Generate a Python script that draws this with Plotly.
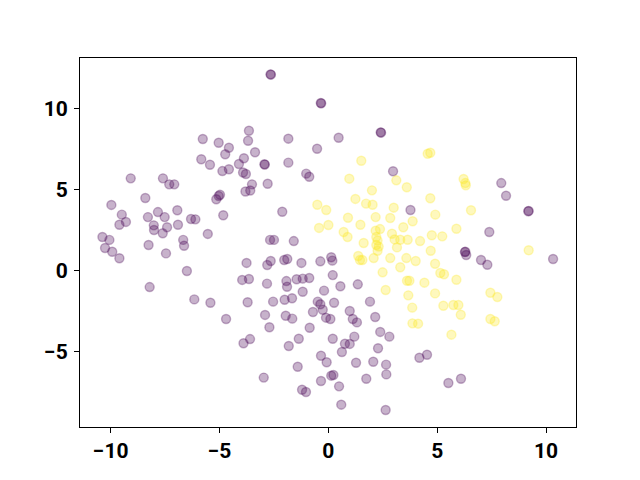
import plotly.graph_objects as go

# Class 0 (purple) points
x0 = [-5.77, -5.04, -4.57, -4.74, -3.65, -3.69, -5.84, -5.44, -3.88, -4.11,
      -4.87, -4.57, -3.92, -3.79, -9.08, -7.60, -7.31, -7.08, -3.51, -4.98,
      -5.04, -5.15, -3.81, -3.59, -8.41, -9.97, -9.49, -7.83, -7.52, -8.29,
      -6.94, -6.31, -6.11, -4.83, -9.30, -9.60, -8.02, -8.01, -7.41, -6.91,
      -7.61, -5.54, -6.67, -10.38, -10.06, -8.26, -10.26, -9.93, -9.60, -7.46,
      -6.63, -6.50, -8.21, -6.16, -5.42, -4.70, -3.76, -3.96, -3.65, -3.71,
      -3.90, -3.60, -2.66, -2.64, -0.35, -0.33, 2.40, 2.42, -1.84, 0.47,
      -0.52, -3.37, -2.94, -2.92, -1.84, -1.02, -0.88, -2.79, 2.97, -2.12,
      3.77, -2.68, -2.50, -1.59, -2.81, -2.65, -2.03, -1.89, -1.24, -0.37,
      0.13, 0.18, -2.82, -1.93, -1.90, -1.46, -1.18, -0.88, 0.20, 0.55,
      1.35, -1.18, -0.20, -2.54, -2.01, -1.67, -0.49, -0.37, 0.26, 1.91,
      -2.91, -1.96, -1.66, -0.71, -0.26, -0.11, 0.09, 0.98, 1.12, 1.31,
      2.15, -2.71, -0.86, -1.36, -1.82, 0.20, 0.76, 0.98, 1.19, 2.38,
      2.80, 2.28, 0.62, -0.34, -0.08, 1.27, 2.06, 2.65, -1.41, 2.66,
      -2.97, -0.34, 0.13, 0.23, 0.49, 1.74, -1.21, -1.03, 0.59, 2.63,
      7.94, 8.16, 9.20, 9.18, 7.39, 6.27, 6.29, 6.33, 7.01, 7.30,
      10.32, 4.18, 4.53, 5.51, 6.09]
y0 = [8.13, 7.90, 7.59, 7.19, 8.64, 8.02, 6.88, 6.54, 6.94, 6.59,
      6.15, 6.26, 6.06, 5.97, 5.70, 5.70, 5.33, 5.33, 5.33, 4.69,
      4.61, 4.41, 4.89, 4.95, 4.49, 4.06, 3.46, 3.62, 3.31, 3.31,
      3.73, 3.19, 3.17, 3.42, 3.01, 2.84, 2.80, 2.51, 2.68, 2.84,
      2.31, 2.27, 1.90, 2.08, 1.90, 1.59, 1.40, 1.17, 0.77, 1.07,
      1.54, -0.02, -1.01, -1.77, -1.98, -2.98, 0.48, -0.57, -0.51, -1.95,
      -4.48, -4.22, 12.12, 12.10, 10.35, 10.33, 8.54, 8.52, 8.15, 8.21,
      7.53, 7.31, 6.57, 6.55, 6.67, 5.99, 5.80, 5.37, 6.14, 3.64,
      3.75, 1.90, 1.90, 1.83, 0.35, 0.60, 0.66, 0.72, 0.48, 0.58,
      0.83, 0.62, -0.80, -0.64, -0.99, -0.53, -0.49, -0.45, -0.27, -0.96,
      -0.84, -1.30, -1.23, -1.91, -1.79, -1.70, -1.91, -2.07, -1.98, -1.91,
      -2.73, -2.78, -2.96, -2.55, -2.41, -2.90, -2.98, -2.49, -2.98, -3.19,
      -2.86, -3.49, -3.52, -4.20, -4.65, -4.20, -4.51, -4.52, -4.07, -3.78,
      -4.07, -4.79, -5.02, -5.25, -5.65, -5.68, -5.62, -5.80, -5.93, -6.40,
      -6.60, -6.81, -6.48, -6.44, -7.14, -6.67, -7.35, -7.49, -8.27, -8.60,
      5.41, 4.63, 3.69, 3.67, 2.39, 1.15, 1.17, 0.97, 0.66, 0.37,
      0.72, -5.37, -5.19, -6.93, -6.67]

# Class 1 (yellow) points
x1 = [1.51, 0.96, 3.12, 3.60, 2.00, 1.24, 1.73, 2.03, -0.51, -0.10,
      3.00, 0.90, 2.17, 2.84, 3.87, 1.47, 0.00, -0.43, 3.44, 2.37,
      2.17, 0.70, 0.88, 2.92, 2.20, 2.26, 1.62, 3.04, 3.30, 3.64,
      2.20, 2.31, 2.26, 3.15, 1.37, 1.45, 1.56, 2.08, 2.84, 3.58,
      3.30, 2.49, 3.61, 3.72, 2.63, 3.67, 3.85, 3.86, 4.12, 4.56,
      4.68, 6.21, 6.29, 6.31, 4.68, 4.91, 6.55, 5.88, 4.75, 5.23,
      4.21, 4.70, 4.01, 9.20, 4.90, 5.14, 5.31, 5.88, 4.41, 4.90,
      5.28, 5.74, 5.97, 6.08, 7.44, 7.76, 7.44, 7.64, 5.65]
y1 = [6.79, 5.68, 5.58, 5.15, 4.96, 4.43, 4.14, 4.07, 4.07, 3.75,
      3.89, 3.27, 3.31, 3.25, 3.05, 2.84, 2.82, 2.64, 2.68, 2.57,
      2.47, 2.39, 2.08, 2.28, 2.08, 1.86, 1.71, 1.93, 1.91, 1.91,
      1.59, 1.49, 1.23, 1.44, 0.91, 0.66, 0.66, 0.78, 0.78, 0.78,
      0.21, -0.10, -0.62, -0.62, -1.19, -1.52, -2.28, -3.25, -3.27, 7.22,
      7.28, 5.66, 5.41, 5.27, 4.47, 3.46, 3.73, 2.59, 2.19, 2.12,
      1.83, 1.23, 0.60, 1.26, 0.43, -0.14, -0.22, -0.56, -0.74, -1.40,
      -2.16, -2.12, -2.12, -2.72, -1.36, -1.62, -2.98, -3.12, -3.95]

x_ticks = [-10, -5, 0, 5, 10]
y_ticks = [-5, 0, 5, 10]

purple = "rgba(68,1,84,0.3)"
yellow = "rgba(253,231,37,0.3)"

fig = go.Figure()
for xs, ys, c in [(x0, y0, purple), (x1, y1, yellow)]:
    fig.add_trace(go.Scatter(
        x=xs, y=ys, mode="markers",
        marker=dict(size=9, color=c, line=dict(color=c, width=1.4)),
        showlegend=False, hoverinfo="skip"))

def lab(v):
    return ("\u2212" + str(abs(v))) if v < 0 else str(v)

tickfont = dict(family="Roboto", size=21, color="black", weight="bold")
axis_common = dict(showline=True, mirror=True, linecolor="black", linewidth=1,
                   ticks="outside", ticklen=5, tickwidth=1, tickcolor="black",
                   showgrid=False, zeroline=False, tickfont=tickfont)

fig.update_xaxes(range=[-11.41, 11.373], tickvals=x_ticks,
                 ticktext=[lab(v) for v in x_ticks], ticklabelstandoff=0,
                 **axis_common)
fig.update_yaxes(range=[-9.648, 13.13], tickvals=y_ticks,
                 ticktext=[lab(v) for v in y_ticks], ticklabelstandoff=2,
                 **axis_common)

# page body has an 8px margin, so the figure is sized/offset to compensate
fig.update_layout(width=632, height=472,
                  margin=dict(l=72, r=64, t=50, b=53, pad=0),
                  plot_bgcolor="white", paper_bgcolor="white")

fig.write_html("out.html")
